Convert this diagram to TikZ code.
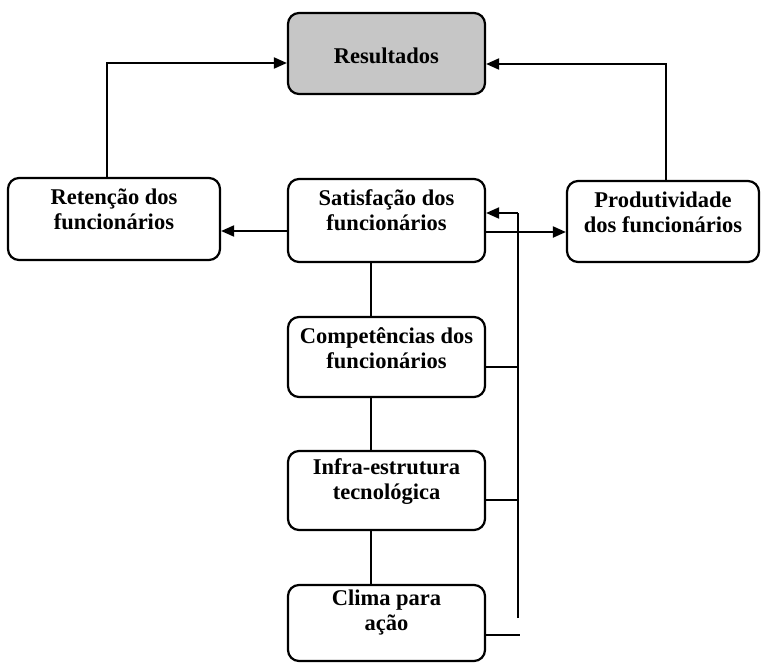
\documentclass[tikz,border=0pt]{standalone}
\usepackage{fontspec}
\setmainfont{Liberation Serif}
\usetikzlibrary{arrows.meta,calc}
\begin{document}
\begin{tikzpicture}[x=1pt,y=-1pt,
  box/.style={draw,line width=2.2pt,rounded corners=11pt,inner sep=0pt},
  txt/.style={font=\fontsize{22.5}{25}\selectfont\bfseries,align=center,inner sep=0pt},
  conn/.style={line width=2pt},
  arr/.style={conn,-{Triangle[length=13pt,width=11pt]}}]
\useasboundingbox (0,0) rectangle (761,662);
% boxes
\node[box,fill=gray!45,minimum width=197pt,minimum height=81pt] (res) at (386.5,53.5) {};
\node[box,minimum width=212pt,minimum height=82pt] (ret) at (114,219) {};
\node[box,minimum width=197pt,minimum height=83pt] (sat) at (386.5,220.5) {};
\node[box,minimum width=192pt,minimum height=81pt] (prod) at (663,221.5) {};
\node[box,minimum width=197pt,minimum height=80pt] (comp) at (386.5,357) {};
\node[box,minimum width=197pt,minimum height=79pt] (infra) at (386.5,490.5) {};
\node[box,minimum width=197pt,minimum height=76pt] (clima) at (386.5,623) {};
% texts
\node[txt] (tres) at ($(res.center)+(0,2)$) {Resultados};
\node[txt] (tret) at ($(ret.center)+(0,-10)$) {Retenção dos\\funcionários};
\node[txt] (tsat) at ($(sat.center)+(0,-10)$) {Satisfação dos\\funcionários};
\node[txt] (tprod) at ($(prod.center)+(0,-9)$) {Produtividade\\dos funcionários};
\node[txt] (tcomp) at ($(comp.center)+(0,-9)$) {Competências dos\\funcionários};
\node[txt] (tinfra) at ($(infra.center)+(0,-9)$) {Infra-estrutura\\tecnológica};
\node[txt] (tclima) at ($(clima.center)+(0,-10)$) {Clima para\\ação};
% coordinates of the bus
\coordinate (bustop) at (518,213);
\coordinate (busbot) at (518,618);
\coordinate (clend) at (520,635);
% connectors to Resultados
\draw[arr] ([xshift=-7pt]ret.north) |- ([yshift=-9.5pt]res.west);
\draw[arr] ([xshift=3pt]prod.north) |- ([yshift=-10.5pt]res.east);
% from Satisfação
\draw[arr] ([yshift=-10.5pt]sat.west) -- ([yshift=-10.5pt]sat.west -| ret.east);
\draw[arr] ([yshift=-11.5pt]sat.east) -- ([yshift=-11.5pt]sat.east -| prod.west);
% bus
\draw[conn] (busbot) -- (bustop);
\draw[arr] (bustop) -- (bustop -| sat.east);
\draw[conn] ([yshift=-10pt]comp.east) -- ([yshift=-10pt]comp.east -| bustop);
\draw[conn] ([yshift=-9.5pt]infra.east) -- ([yshift=-9.5pt]infra.east -| bustop);
\draw[conn] (clend -| clima.east) -- (clend);
% vertical chain
\draw[conn] ([xshift=-15.5pt]sat.south) -- ([xshift=-15.5pt]sat.south |- comp.north);
\draw[conn] ([xshift=-15.5pt]comp.south) -- ([xshift=-15.5pt]comp.south |- infra.north);
\draw[conn] ([xshift=-15.5pt]infra.south) -- ([xshift=-15.5pt]infra.south |- clima.north);
\end{tikzpicture}
\end{document}
